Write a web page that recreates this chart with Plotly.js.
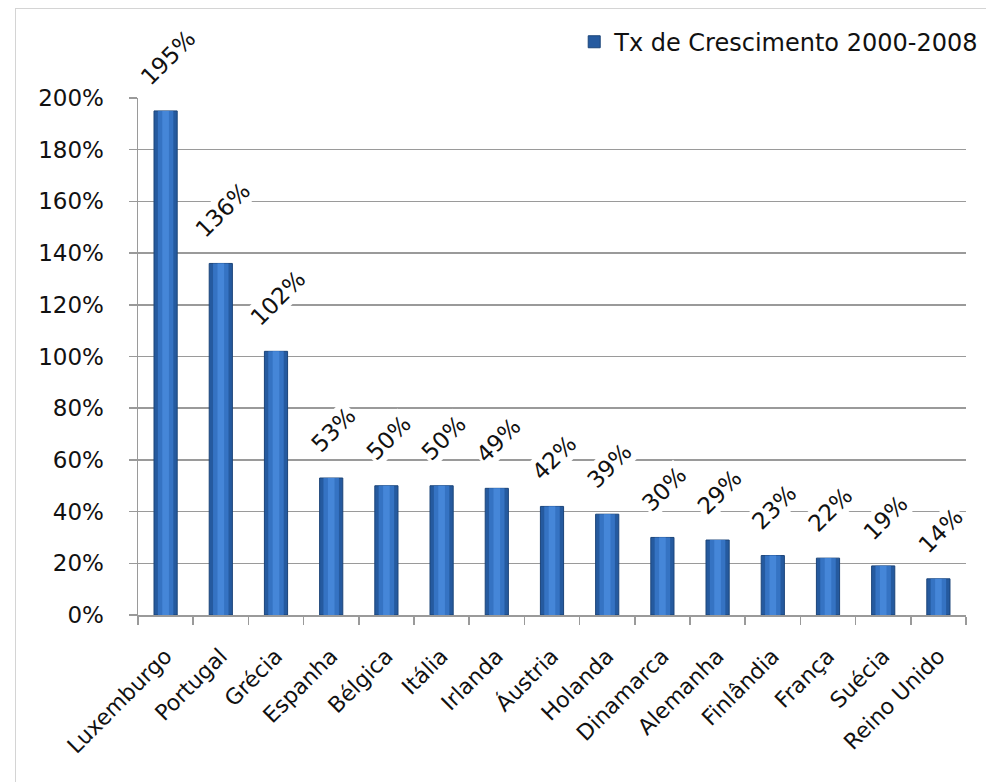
<!DOCTYPE html>
<html>
<head>
<meta charset="utf-8">
<script src="https://cdn.plot.ly/plotly-3.0.1.min.js"></script>
<style>
  html, body { margin: 0; padding: 0; background: #ffffff; }
  #frame { position: absolute; left: 15px; top: 8px; width: 975px; height: 790px; border: 1px solid #d4d4d4; box-sizing: border-box; }
  #chart { position: absolute; left: 0; top: 0; width: 986px; height: 782px; }
</style>
</head>
<body>
<div id="frame"></div>
<div id="chart"></div>
<script>
const categories = ["Luxemburgo", "Portugal", "Grécia", "Espanha", "Bélgica", "Itália", "Irlanda", "Áustria", "Holanda", "Dinamarca", "Alemanha", "Finlândia", "França", "Suécia", "Reino Unido"];
const growth = [195, 136, 102, 53, 50, 50, 49, 42, 39, 30, 29, 23, 22, 19, 14];
const seriesName = "Tx de Crescimento 2000-2008";
const yTicks = [0, 20, 40, 60, 80, 100, 120, 140, 160, 180, 200];

const FONT = "DejaVu Sans, Open Sans, sans-serif";

const traces = [
  {
    type: "bar",
    x: categories,
    y: growth,
    name: seriesName,
    width: 0.42,
    marker: { color: "#255a9f", line: { color: "#1b4479", width: 1 } },
    hoverinfo: "x+y"
  },
  {
    type: "bar",
    x: categories,
    y: growth,
    name: seriesName,
    showlegend: false,
    width: 0.28,
    marker: { color: "#3573c3", line: { width: 0 } },
    hoverinfo: "skip"
  },
  {
    type: "bar",
    x: categories,
    y: growth,
    name: seriesName,
    showlegend: false,
    width: 0.12,
    marker: { color: "#4586d8", line: { width: 0 } },
    hoverinfo: "skip"
  }
];

const annotations = categories.map((c, i) => ({
  x: c,
  y: growth[i],
  xref: "x",
  yref: "y",
  text: growth[i] + "%",
  showarrow: false,
  textangle: -45,
  xanchor: "center",
  yanchor: "bottom",
  yshift: 18,
  xshift: 2,
  bgcolor: "#ffffff",
  borderpad: 1,
  font: { family: FONT, size: 23, color: "#111111" }
}));

const layout = {
  width: 986,
  height: 782,
  margin: { l: 138, r: 20, t: 98, b: 167, autoexpand: false },
  paper_bgcolor: "rgba(0,0,0,0)",
  plot_bgcolor: "rgba(0,0,0,0)",
  barmode: "overlay",
  showlegend: true,
  legend: {
    x: 1.022, xanchor: "right",
    y: 1.108, yanchor: "middle",
    bgcolor: "rgba(0,0,0,0)",
    font: { family: FONT, size: 24, color: "#111111" },
    itemwidth: 30
  },
  xaxis: {
    type: "category",
    range: [-0.5, categories.length - 0.5],
    showline: true,
    linecolor: "#9a9a9a",
    linewidth: 1.5,
    ticks: "outside",
    tickson: "boundaries",
    ticklen: 8,
    tickcolor: "#9a9a9a",
    tickwidth: 1.5,
    tickangle: -45,
    ticklabelstandoff: 18,
    tickfont: { family: FONT, size: 22, color: "#111111" },
    showgrid: false,
    fixedrange: true
  },
  yaxis: {
    range: [0, 200],
    tickvals: yTicks,
    ticktext: yTicks.map(v => v + "%"),
    showline: true,
    linecolor: "#9a9a9a",
    linewidth: 1.5,
    ticks: "outside",
    ticklen: 8,
    tickcolor: "#9a9a9a",
    tickwidth: 1.5,
    ticklabelstandoff: 20,
    showgrid: true,
    gridcolor: "#9a9a9a",
    gridwidth: 1.5,
    zeroline: false,
    tickfont: { family: FONT, size: 23, color: "#111111" },
    fixedrange: true
  },
  annotations: annotations
};

Plotly.newPlot("chart", traces, layout, { displayModeBar: false, staticPlot: true });
</script>
</body>
</html>
